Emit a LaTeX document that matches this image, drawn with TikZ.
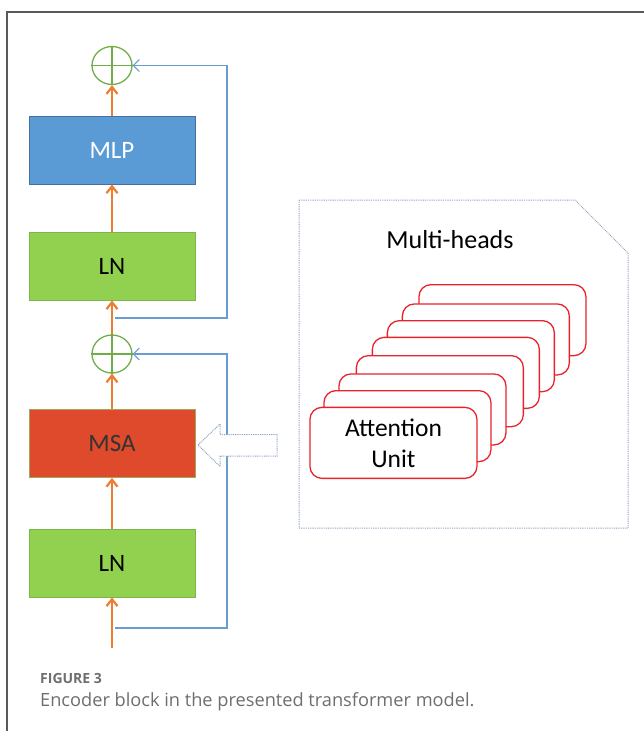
\documentclass[tikz,border=0pt]{standalone}
\usepackage{fontspec}
\setmainfont{Carlito}
\newfontfamily\capfont{Open Sans}
\usetikzlibrary{arrows.meta,shapes.geometric}
\definecolor{orng}{HTML}{ED7D31}
\definecolor{skipblue}{HTML}{6A9BD1}
\definecolor{gcirc}{HTML}{70AD47}
\definecolor{lngreen}{HTML}{92D050}
\definecolor{lnedge}{HTML}{7DB648}
\definecolor{mlpblue}{HTML}{5B9BD5}
\definecolor{mlpedge}{HTML}{41719C}
\definecolor{msared}{HTML}{E04A2C}
\definecolor{msaedge}{HTML}{9DAA5A}
\definecolor{dotcol}{HTML}{8EA3BF}
\definecolor{cardred}{HTML}{E8232B}
\definecolor{capgray}{HTML}{6E6E6E}
\tikzset{
  blk/.style={draw, line width=0.8pt, minimum width=166pt, minimum height=68pt, inner sep=0pt, font=\fontsize{25}{27}\selectfont},
  addc/.style={draw=gcirc, line width=1.3pt, ellipse, minimum width=40pt, minimum height=38pt, inner sep=0pt},
  flow/.style={orng, line width=2.5pt, -{Straight Barb[length=7pt,width=11pt,line width=2.2pt]}},
  skip/.style={skipblue, line width=1.1pt},
  skiparr/.style={skipblue, line width=1.1pt, -{Straight Barb[length=6pt,width=12pt,line width=1pt]}},
  dotline/.style={dotcol, line width=1pt, dash pattern=on 0.9pt off 0.9pt},
  card/.style={draw=cardred, fill=white, line width=1.3pt, rounded corners=12pt, minimum width=167pt, minimum height=71pt, inner sep=0pt, anchor=north west}
}
\begin{document}
\begin{tikzpicture}[x=1pt,y=-1pt]
\useasboundingbox (0,0) rectangle (644,731);
% outer frame
\draw[draw=black!65, line width=1.2pt] (7,731) -- (7,12) -- (644,12);

% blocks
\node[blk, fill=mlpblue, draw=mlpedge, text=white] (mlp) at (112,150) {MLP};
\node[blk, fill=lngreen, draw=lnedge] (ln1) at (112,266) {LN};
\node[blk, fill=msared, draw=msaedge, text=black!80] (msa) at (112,443.5) {MSA};
\node[blk, fill=lngreen, draw=lnedge] (ln2) at (112,563) {LN};

% adders
\node[addc] (add1) at (112,65.5) {};
\draw[gcirc, line width=1.3pt] (add1.north) -- (add1.south) (add1.west) -- (add1.east);
\node[addc] (add2) at (112,354) {};
\draw[gcirc, line width=1.3pt] (add2.north) -- (add2.south) (add2.west) -- (add2.east);

% input
\coordinate (in) at (112,648);
\coordinate (s1) at (115,628);
\coordinate (s1c) at (227,628);
\coordinate (s2) at (115,318);
\coordinate (s2c) at (227,318);

% skip connections
\draw[skiparr] (s1) -- (s1c) |- (add2.east);
\draw[skiparr] (s2) -- (s2c) |- (add1.east);

% main flow
\draw[flow] (in) -- (ln2.south);
\draw[flow] (ln2.north) -- (msa.south);
\draw[flow] (msa.north) -- (add2.south);
\draw[flow] (add2.north) -- (ln1.south);
\draw[flow] (ln1.north) -- (mlp.south);
\draw[flow] (mlp.north) -- (add1.south);

% hollow dotted arrow
\draw[dotline, fill=white] (198,445) -- (220,424) -- (220,434.5) -- (277,434.5) -- (277,456) -- (220,456) -- (220,466.5) -- cycle;

% multi-heads box
\draw[dotline] (299,200) -- (575,200) -- (628,253) -- (628,528) -- (299,528) -- cycle;
\node[font=\fontsize{26}{28}\selectfont] (mh) at (450,240) {Multi-heads};

% stacked cards
\foreach \i/\xx/\yy in {7/418.3/284,6/401.7/303.3,5/386.7/320,4/371.7/336.7,3/355.7/355,2/338.3/373.3,1/323.3/390}{
  \node[card] (card\i) at (\xx,\yy) {};
}
\node[card, align=center, font=\fontsize{25.5}{31}\selectfont] (card0) at (309.3,406.7) {Attention\\Unit};

% caption
\node[anchor=west, inner sep=0pt, text=capgray, font=\capfont\bfseries\fontsize{14}{16}\selectfont] (figlab) at (40,678) {FIGURE 3};
\node[anchor=west, inner sep=0pt, text=capgray, font=\capfont\fontsize{18.2}{20}\selectfont] (cap) at (40,702) {Encoder block in the presented transformer model.};
\end{tikzpicture}
\end{document}
